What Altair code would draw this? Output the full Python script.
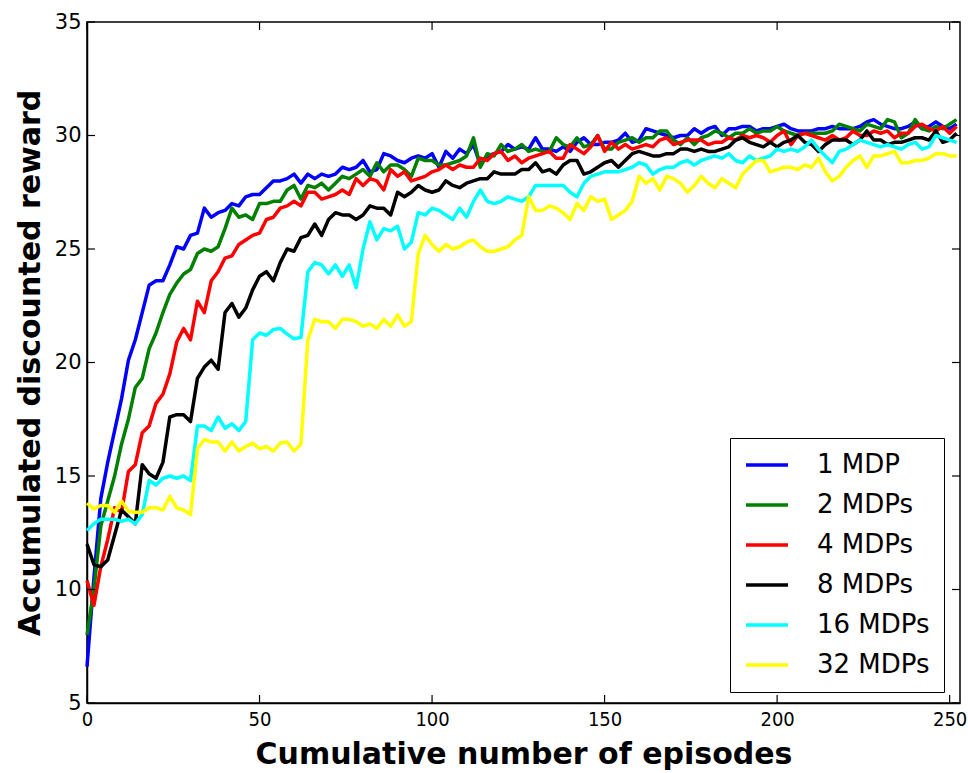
import altair as alt
import pandas as pd

episodes = list(range(0, 253, 2))

mdp1 = [6.6, 10.5, 14.0, 15.6, 17.0, 18.4, 20.1, 21.0, 22.2, 23.4,
        23.6, 23.6, 24.3, 25.1, 25.0, 25.6, 25.7, 26.8, 26.4, 26.6,
        26.7, 27.0, 26.9, 27.3, 27.4, 27.4, 27.7, 28.0, 28.0, 28.1,
        28.3, 27.9, 28.3, 28.1, 28.3, 28.2, 28.3, 28.6, 28.5, 28.6,
        28.9, 28.4, 28.5, 29.2, 29.1, 28.9, 28.8, 29.0, 29.1, 29.0,
        29.2, 28.6, 29.3, 29.0, 29.4, 29.2, 29.6, 28.7, 29.1, 29.2,
        29.3, 29.6, 29.4, 29.5, 29.4, 29.9, 29.4, 29.4, 29.3, 29.5,
        29.3, 29.7, 29.9, 29.6, 29.6, 29.7, 29.7, 29.8, 30.1, 29.7,
        29.8, 30.3, 30.2, 30.1, 30.0, 29.9, 30.0, 30.0, 30.3, 30.1,
        30.3, 30.4, 30.0, 30.3, 30.3, 30.4, 30.4, 30.2, 30.3, 30.3,
        30.4, 30.5, 30.3, 30.2, 30.2, 30.2, 30.3, 30.3, 30.4, 30.3,
        30.3, 30.3, 30.4, 30.6, 30.7, 30.5, 30.4, 30.3, 30.3, 30.4,
        30.6, 30.3, 30.4, 30.6, 30.4, 30.3, 30.5]

mdp2 = [8.0, 10.0, 12.8, 13.9, 15.0, 16.4, 17.5, 18.9, 19.3, 20.6,
        21.3, 22.2, 23.0, 23.5, 23.9, 24.1, 24.8, 25.0, 24.9, 25.1,
        25.9, 26.8, 26.4, 26.5, 26.3, 27.0, 27.0, 27.1, 27.1, 27.6,
        27.8, 27.2, 27.8, 27.7, 27.9, 27.6, 27.9, 28.2, 28.1, 28.3,
        28.5, 28.2, 28.8, 28.4, 28.7, 28.7, 28.5, 28.2, 29.0, 28.9,
        28.9, 28.7, 28.7, 28.8, 28.9, 29.1, 29.9, 28.6, 29.2, 29.1,
        29.6, 29.3, 29.4, 29.6, 29.3, 29.4, 29.3, 29.3, 29.9, 29.6,
        29.5, 29.9, 29.5, 29.6, 30.0, 29.4, 29.4, 29.7, 29.8, 29.9,
        29.7, 29.9, 29.9, 30.2, 30.2, 29.8, 29.6, 29.9, 29.6, 29.9,
        30.0, 30.2, 30.1, 29.9, 30.1, 30.1, 30.3, 30.1, 30.2, 30.2,
        30.4, 30.2, 30.1, 30.0, 30.1, 30.1, 30.1, 30.1, 30.2, 30.5,
        30.4, 30.3, 30.2, 30.5, 30.4, 30.3, 30.7, 30.6, 29.9, 30.1,
        30.7, 30.3, 30.2, 30.4, 30.3, 30.5, 30.7]

mdp4 = [10.4, 9.3, 11.0, 12.2, 13.6, 13.4, 15.2, 15.5, 16.9, 17.2,
        18.2, 18.6, 19.5, 20.9, 21.5, 21.0, 22.7, 22.2, 23.6, 24.0,
        24.6, 24.7, 25.2, 25.4, 25.6, 25.7, 26.3, 26.4, 26.8, 26.9,
        27.1, 26.9, 27.5, 27.5, 27.2, 27.3, 27.4, 27.6, 27.4, 28.1,
        27.8, 28.1, 28.0, 27.6, 28.5, 28.2, 28.4, 28.0, 28.1, 28.2,
        28.4, 28.5, 28.7, 28.5, 28.7, 28.6, 28.6, 29.0, 28.9, 29.2,
        29.3, 28.9, 29.1, 28.8, 29.0, 29.1, 29.2, 29.3, 29.0, 29.0,
        29.6, 29.4, 29.2, 29.5, 30.0, 29.3, 29.7, 29.4, 29.6, 29.4,
        29.5, 29.6, 29.5, 29.8, 29.9, 29.6, 29.7, 29.8, 29.8, 29.8,
        29.6, 29.7, 29.7, 29.9, 29.8, 30.0, 29.9, 30.0, 29.9, 29.7,
        30.0, 30.2, 29.6, 30.0, 30.1, 30.0, 29.9, 29.8, 30.0, 29.8,
        29.9, 30.2, 30.0, 30.0, 30.2, 30.1, 30.2, 29.9, 30.1, 30.1,
        30.4, 30.5, 30.3, 30.2, 30.4, 30.1, 30.4]

mdp8 = [12.0, 11.1, 11.0, 11.3, 12.4, 13.5, 13.2, 12.9, 15.5, 15.1,
        14.9, 15.6, 17.6, 17.7, 17.7, 17.4, 19.3, 19.8, 20.1, 19.7,
        22.2, 22.6, 22.0, 22.4, 23.2, 23.8, 24.0, 23.6, 24.4, 25.0,
        24.9, 25.5, 25.6, 26.1, 25.6, 26.3, 26.6, 26.5, 26.5, 26.3,
        26.5, 26.9, 26.8, 26.8, 26.5, 27.5, 27.3, 27.5, 27.8, 27.6,
        27.5, 27.6, 28.0, 27.8, 27.7, 27.9, 28.0, 28.1, 28.1, 28.4,
        28.3, 28.3, 28.3, 28.5, 28.5, 28.8, 28.4, 28.5, 28.3, 28.7,
        28.9, 28.9, 28.3, 28.4, 28.6, 28.8, 28.9, 28.6, 28.9, 29.2,
        29.3, 29.2, 29.1, 29.1, 29.2, 29.2, 29.4, 29.4, 29.3, 29.4,
        29.3, 29.3, 29.4, 29.5, 29.8, 29.9, 29.7, 29.6, 29.5, 29.7,
        29.5, 29.7, 29.8, 30.0, 29.7, 29.6, 29.3, 29.6, 29.8, 29.8,
        29.8, 29.6, 29.8, 30.2, 29.8, 29.8, 29.6, 29.7, 29.7, 29.8,
        29.9, 29.9, 29.8, 30.2, 29.7, 29.8, 30.1]

mdp16 = [12.6, 12.9, 13.1, 13.1, 13.1, 13.0, 13.1, 12.9, 13.3, 14.8,
         14.6, 14.9, 15.0, 14.9, 15.0, 14.8, 17.2, 17.2, 17.0, 17.6,
         17.1, 17.3, 17.0, 17.4, 21.0, 21.3, 21.2, 21.45, 21.5, 21.25,
         21.05, 21.1, 24.0, 24.4, 24.3, 23.9, 24.3, 23.8, 24.3, 23.3,
         25.0, 26.2, 25.4, 25.9, 25.8, 26.0, 25.0, 25.3, 26.6, 26.5,
         26.8, 26.7, 26.5, 26.3, 26.8, 26.4, 27.1, 27.6, 27.1, 27.0,
         27.1, 27.3, 27.2, 27.1, 27.3, 27.8, 27.8, 27.8, 27.8, 27.8,
         27.5, 27.3, 27.9, 28.2, 28.3, 28.4, 28.4, 28.4, 28.5, 28.6,
         28.8, 28.7, 28.3, 28.5, 28.6, 28.6, 28.8, 28.9, 28.7, 28.9,
         29.0, 29.1, 29.0, 29.2, 28.9, 28.8, 29.1, 28.9, 29.0, 29.1,
         29.4, 29.3, 29.4, 29.3, 29.5, 29.8, 29.4, 29.1, 28.8, 29.3,
         29.4, 29.6, 29.8, 29.7, 29.6, 29.5, 29.6, 29.5, 29.4, 29.6,
         29.7, 29.4, 29.5, 30.0, 29.9, 29.8, 29.7]

mdp32 = [13.8, 13.55, 13.7, 13.7, 13.4, 13.9, 13.45, 13.4, 13.4, 13.6,
         13.6, 13.5, 14.1, 13.6, 13.5, 13.3, 16.2, 16.6, 16.5, 16.5,
         16.1, 16.5, 16.1, 16.3, 16.45, 16.2, 16.3, 16.1, 16.45, 16.5,
         16.1, 16.4, 21.0, 21.9, 21.8, 21.8, 21.5, 21.9, 21.9, 21.8,
         21.6, 21.7, 21.5, 21.9, 21.6, 22.1, 21.6, 21.8, 24.8, 25.6,
         25.2, 24.9, 25.2, 25.0, 25.1, 25.3, 25.4, 25.1, 24.9, 24.9,
         25.0, 25.1, 25.4, 25.6, 27.3, 26.7, 26.7, 26.9, 26.8, 26.6,
         26.3, 27.0, 26.7, 27.3, 27.1, 27.2, 26.3, 26.5, 26.7, 27.1,
         28.2, 27.9, 28.1, 27.6, 28.2, 28.1, 27.9, 27.5, 27.8, 28.2,
         27.9, 27.7, 28.1, 27.9, 27.7, 28.3, 28.6, 28.9, 28.9, 28.4,
         28.5, 28.6, 28.6, 28.5, 28.7, 28.6, 29.0, 28.4, 28.0, 28.2,
         28.6, 28.9, 29.1, 28.6, 29.1, 29.1, 29.2, 29.3, 28.8, 28.8,
         28.9, 28.9, 29.0, 29.2, 29.2, 29.1, 29.1]

series_names = ["1 MDP", "2 MDPs", "4 MDPs", "8 MDPs", "16 MDPs", "32 MDPs"]
series_colors = ["#0000ff", "#008000", "#ff0000", "#000000", "#00ffff", "#ffff00"]
x_ticks = [0, 50, 100, 150, 200, 250]
y_ticks = [5, 10, 15, 20, 25, 30, 35]

all_series = [mdp1, mdp2, mdp4, mdp8, mdp16, mdp32]
rows = []
for name, vals in zip(series_names, all_series):
    for e, v in zip(episodes, vals):
        rows.append({"episode": e, "reward": v, "series": name})
df = pd.DataFrame(rows)

W, H = 873, 681
FONT = "DejaVu Sans"
XFONT = "DejaVu Sans Condensed, Liberation Sans Narrow, DejaVu Sans"
xscale = alt.Scale(domain=[0, 253], nice=False, zero=False)
yscale = alt.Scale(domain=[5, 35], nice=False, zero=False)
cscale = alt.Scale(domain=series_names, range=series_colors)

X_TITLE = "Cumulative number of episodes"
Y_TITLE = "Accumulated discounted reward"

x_axis = alt.Axis(values=x_ticks, title=X_TITLE, ticks=False,
                  grid=False, labelFont=XFONT, labelFontSize=20, labelColor="black",
                  labelPadding=6, labelFlush=False, labelOverlap=False,
                  titleFont=FONT, titleFontSize=30, titleFontWeight="bold",
                  titleColor="black", titlePadding=10, domainColor="black",
                  domainWidth=1.5)
y_axis = alt.Axis(values=y_ticks, title=Y_TITLE, ticks=False,
                  grid=False, labelFont=FONT, labelFontSize=21, labelColor="black",
                  labelPadding=6, labelFlush=False, labelOverlap=False,
                  titleFont=FONT, titleFontSize=30, titleFontWeight="bold",
                  titleColor="black", titlePadding=9, domainColor="black",
                  domainWidth=1.5)

legend = alt.Legend(title=None, orient="none", legendX=643, legendY=416,
                    symbolType="stroke", symbolSize=1764, symbolStrokeWidth=3.5,
                    labelFont=FONT, labelFontSize=26, labelColor="black",
                    labelOffset=27, padding=14, rowPadding=14, clipHeight=26,
                    strokeColor="black", fillColor="white", cornerRadius=0,
                    labelLimit=300)

layers = []
for name in series_names:
    layers.append(
        alt.Chart(df).transform_filter(alt.datum.series == name)
        .mark_line(strokeWidth=3.5, strokeJoin="round")
        .encode(
            x=alt.X("episode:Q", scale=xscale, axis=x_axis, title=X_TITLE),
            y=alt.Y("reward:Q", scale=yscale, axis=y_axis, title=Y_TITLE),
            color=alt.Color("series:N", scale=cscale, legend=legend),
        )
    )

xt = pd.DataFrame({"t": x_ticks})
yt = pd.DataFrame({"t": y_ticks})
tick_style = dict(color="black", strokeWidth=1.2)
bottom_ticks = alt.Chart(xt).mark_rule(**tick_style).encode(
    x=alt.X("t:Q", scale=xscale, axis=x_axis, title=X_TITLE),
    y=alt.value(H), y2=alt.value(H - 8))
top_ticks = alt.Chart(xt).mark_rule(**tick_style).encode(
    x=alt.X("t:Q", scale=xscale, axis=x_axis, title=X_TITLE),
    y=alt.value(0), y2=alt.value(8))
left_ticks = alt.Chart(yt).mark_rule(**tick_style).encode(
    y=alt.Y("t:Q", scale=yscale, axis=y_axis, title=Y_TITLE),
    x=alt.value(0), x2=alt.value(8))
right_ticks = alt.Chart(yt).mark_rule(**tick_style).encode(
    y=alt.Y("t:Q", scale=yscale, axis=y_axis, title=Y_TITLE),
    x=alt.value(W), x2=alt.value(W - 8))

chart = alt.layer(*layers, bottom_ticks, top_ticks, left_ticks, right_ticks).properties(
    width=W, height=H,
    autosize=alt.AutoSizeParams(type="none"),
    padding={"left": 87, "top": 22, "right": 8, "bottom": 70},
    background="white",
).configure_view(stroke="black", strokeWidth=1.5)

chart.save("out.html", embed_options={"renderer": "svg", "actions": False})
